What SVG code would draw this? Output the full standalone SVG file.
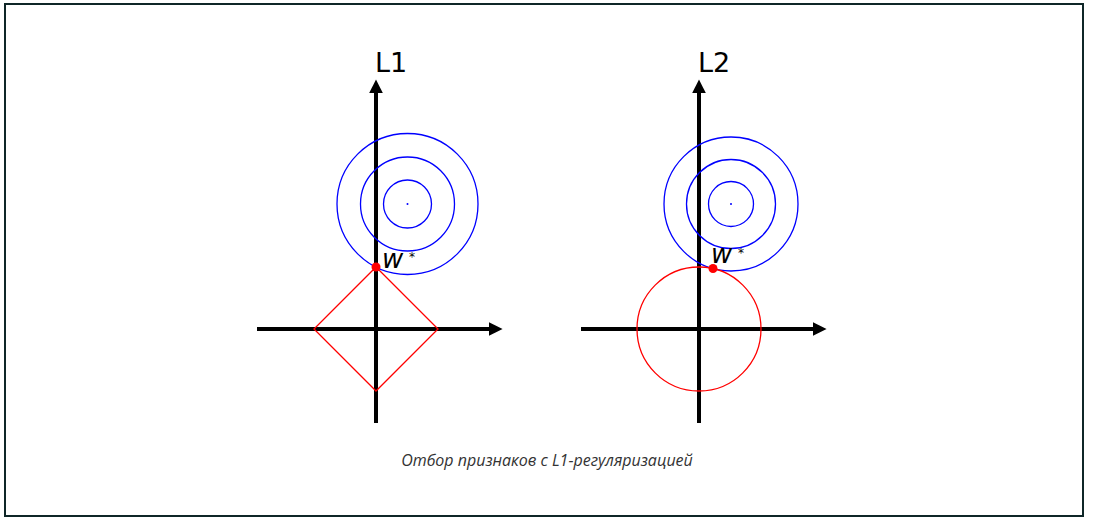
<svg xmlns="http://www.w3.org/2000/svg" width="1116" height="518" viewBox="0 0 1116 518">
<style>
.axis{stroke:#000;stroke-width:4;fill:none}
.blue{stroke:#0000ff;stroke-width:1.3;fill:none}
.red{stroke:#ff0000;stroke-width:1.3;fill:none}
.lbl{font-family:"DejaVu Sans",sans-serif;fill:#000}
.w{font-family:"DejaVu Sans",sans-serif;font-style:oblique;font-weight:normal;font-size:26px;fill:#000}
.cap{font-family:"Open Sans",sans-serif;font-style:italic;font-size:16px;fill:#333}
</style>
<defs>
<marker id="ah" viewBox="0 0 10 10" refX="0" refY="5" markerWidth="3.4" markerHeight="3.4" orient="auto" markerUnits="strokeWidth">
<path d="M0,0 L10,5 L0,10 z" fill="#000"/>
</marker>
</defs>
<rect x="5" y="4" width="1078" height="512" fill="#fff" stroke="#0f2628" stroke-width="2"/>
<g id="connectors">
<line class="axis" x1="376" y1="423" x2="376" y2="93" marker-end="url(#ah)"/>
<line class="axis" x1="257" y1="329" x2="489" y2="329" marker-end="url(#ah)"/>
<line class="axis" x1="699" y1="423" x2="699" y2="93" marker-end="url(#ah)"/>
<line class="axis" x1="581" y1="329" x2="813" y2="329" marker-end="url(#ah)"/>
</g>
<g id="l1">
<text class="lbl" x="375" y="72" font-size="27">L1</text>
<circle class="blue" cx="407.5" cy="204" r="24"/>
<circle class="blue" cx="407.5" cy="204" r="47"/>
<circle class="blue" cx="407.5" cy="204" r="70.5"/>
<circle cx="407.5" cy="204" r="1" fill="#0000ff"/>
<polygon class="red" points="376,267 438,329 376,391 314,329"/>
<circle cx="376" cy="267" r="4.5" fill="#ff0000"/>
<text class="w" x="382" y="268">w</text>
<text class="lbl" x="409" y="261" font-size="12">*</text>
</g>
<g id="l2">
<text class="lbl" x="698" y="72" font-size="27">L2</text>
<circle class="blue" cx="731" cy="204" r="22.5"/>
<circle class="blue" cx="731" cy="204" r="44.5"/>
<circle class="blue" cx="731" cy="204" r="67"/>
<circle cx="731" cy="204" r="1" fill="#0000ff"/>
<circle class="red" cx="699" cy="329" r="62"/>
<circle cx="713" cy="268.5" r="4.5" fill="#ff0000"/>
<text class="w" x="711" y="263">w</text>
<text class="lbl" x="738" y="257" font-size="12">*</text>
</g>
<text class="cap" x="547" y="466" text-anchor="middle">Отбор признаков с L1-регуляризацией</text>
</svg>
